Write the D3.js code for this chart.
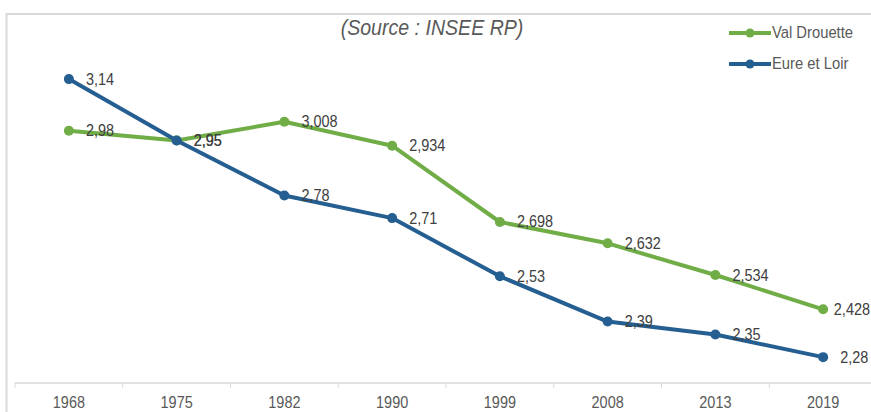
<!DOCTYPE html>
<html>
<head>
<meta charset="utf-8">
<script src="https://cdn.jsdelivr.net/npm/d3@7"></script>
<style>
  body { margin: 0; background: #fff; }
  svg { display: block; }
</style>
</head>
<body>
<div id="chart"></div>
<script>
// Data
const years = ["1968", "1975", "1982", "1990", "1999", "2008", "2013", "2019"];
const valDrouette = [2.98, 2.95, 3.008, 2.934, 2.698, 2.632, 2.534, 2.428];
const eureEtLoir = [3.14, 2.95, 2.78, 2.71, 2.53, 2.39, 2.35, 2.28];
const seriesNames = ["Val Drouette", "Eure et Loir"];
const seriesColors = ["#70ad47", "#255e91"];

const width = 871;
const height = 412;
const font = "'Liberation Sans', Arial, sans-serif";
const squeeze = 0.85; // the source text is horizontally condensed

const svg = d3.select("#chart")
  .append("svg")
    .attr("width", width)
    .attr("height", height)
    .attr("viewBox", [0, 0, width, height]);

// Chart frame (cut off on the right and bottom)
svg.append("rect")
    .attr("x", 6.5)
    .attr("y", 14)
    .attr("width", 900)
    .attr("height", 450)
    .attr("fill", "none")
    .attr("stroke", "#d9d9d9")
    .attr("stroke-width", 2);

const x = d3.scaleBand()
    .domain(years)
    .range([15, 877])
    .paddingInner(0);

const y = d3.scaleLinear()
    .domain([2.2, 3.35])
    .range([383, 11.2]);

const cx = d => x(d) + x.bandwidth() / 2;

// condensed text helper
function squeezed(sel, tx, ty, sx = squeeze) {
  return sel.attr("transform", (d, i) => `translate(${tx(d, i)},${ty(d, i)}) scale(${sx},1)`);
}

// X axis: baseline, boundary ticks, labels
const axisY = y(2.2);
const axis = svg.append("g");
axis.append("line")
    .attr("x1", x.range()[0])
    .attr("x2", x.range()[1])
    .attr("y1", axisY)
    .attr("y2", axisY)
    .attr("stroke", "#d9d9d9")
    .attr("stroke-width", 1.5);

axis.selectAll(".tick")
  .data(years)
  .join("line")
    .attr("x1", d => x(d))
    .attr("x2", d => x(d))
    .attr("y1", axisY)
    .attr("y2", axisY + 5)
    .attr("stroke", "#d9d9d9");

axis.selectAll("text")
  .data(years)
  .join("text")
    .call(squeezed, d => cx(d), () => 407.5)
    .attr("text-anchor", "middle")
    .attr("fill", "#595959")
    .style("font", `17px ${font}`)
    .text(d => d);

// Title
svg.append("text")
    .datum("(Source : INSEE RP)")
    .call(squeezed, () => 432, () => 35, 0.89)
    .attr("text-anchor", "middle")
    .attr("fill", "#595959")
    .style("font", `italic 22px ${font}`)
    .text(d => d);

const line = d3.line()
    .x((d, i) => cx(years[i]))
    .y(d => y(d));

const fmt = v => String(v).replace(".", ",");

[valDrouette, eureEtLoir].forEach((values, s) => {
  const g = svg.append("g");
  g.append("path")
      .datum(values)
      .attr("d", line)
      .attr("fill", "none")
      .attr("stroke", seriesColors[s])
      .attr("stroke-width", 4)
      .attr("stroke-linejoin", "round");

  g.selectAll("circle")
    .data(values)
    .join("circle")
      .attr("cx", (d, i) => cx(years[i]))
      .attr("cy", d => y(d))
      .attr("r", 5)
      .attr("fill", seriesColors[s]);

  g.selectAll("text")
    .data(values)
    .join("text")
      .attr("dominant-baseline", "middle")
      .attr("fill", "#404040")
      .style("font", `17px ${font}`)
      .text(d => fmt(d))
      .each(function(d, i) {
        const w = this.getComputedTextLength() * squeeze;
        const tx = Math.min(cx(years[i]) + 17, width - 1 - w);
        d3.select(this).attr("transform", `translate(${tx},${y(d) + 1}) scale(${squeeze},1)`);
      });
});

// Legend
const legend = svg.append("g");
seriesNames.forEach((name, i) => {
  const ly = 33 + i * 31;
  legend.append("line")
      .attr("x1", 729)
      .attr("x2", 771)
      .attr("y1", ly)
      .attr("y2", ly)
      .attr("stroke", seriesColors[i])
      .attr("stroke-width", 4);
  legend.append("circle")
      .attr("cx", 750)
      .attr("cy", ly)
      .attr("r", 4.5)
      .attr("fill", seriesColors[i]);
  legend.append("text")
      .datum(name)
      .call(squeezed, () => 772, () => ly + 1, 0.87)
      .attr("dominant-baseline", "middle")
      .attr("fill", "#595959")
      .style("font", `17px ${font}`)
      .text(d => d);
});
</script>
</body>
</html>
